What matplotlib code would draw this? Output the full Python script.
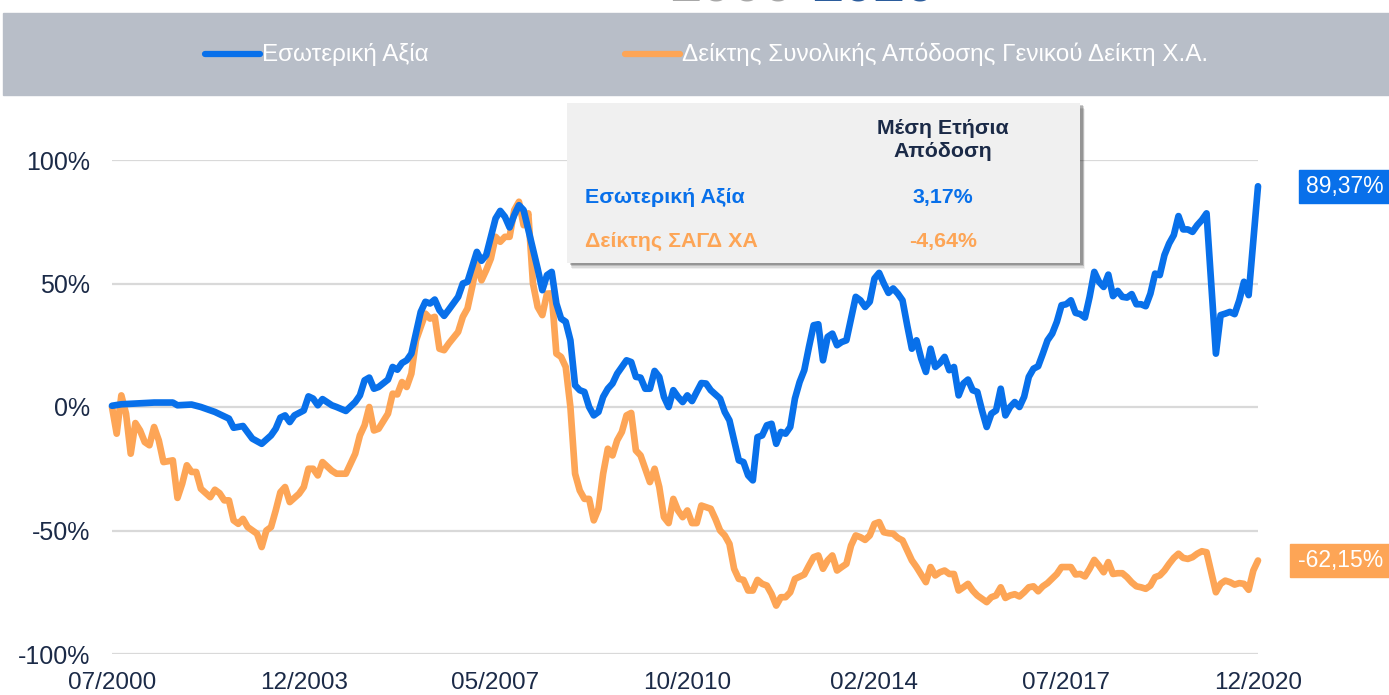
import matplotlib
matplotlib.use('Agg')
from matplotlib import pyplot as plt
from matplotlib.patches import Rectangle
from matplotlib.lines import Line2D
import matplotlib.transforms as mtransforms

# months counted from 07/2000
blue_months = [0, 2, 5, 9, 13, 14, 17, 19, 22, 25, 26, 28, 30, 32, 34, 35, 36, 37, 38, 39,
               41, 42, 43, 44, 45, 47, 48, 50, 52, 53, 54, 55, 56, 57, 59, 60, 61, 62, 63, 64,
               66, 67, 68, 69, 70, 71, 72, 74, 75, 76, 78, 79, 80, 81, 82, 83, 84, 85, 86, 87,
               88, 91, 92, 93, 94, 95, 96, 97, 98, 99, 100, 101, 102, 103, 104, 105, 106, 107, 108, 109,
               110, 111, 112, 113, 114, 115, 116, 117, 118, 119, 120, 121, 122, 123, 124, 125, 126, 127, 128, 130,
               131, 132, 133, 134, 135, 136, 137, 138, 139, 140, 141, 142, 143, 144, 145, 146, 147, 148, 149, 150,
               151, 152, 153, 154, 155, 156, 157, 158, 159, 160, 161, 162, 163, 164, 165, 166, 167, 168, 169, 170,
               171, 172, 173, 174, 175, 176, 177, 178, 179, 180, 181, 182, 183, 184, 185, 186, 187, 188, 189, 190,
               191, 192, 193, 194, 195, 196, 197, 198, 199, 200, 201, 202, 203, 204, 205, 206, 207, 208, 209, 210,
               211, 212, 213, 214, 215, 216, 217, 218, 219, 220, 221, 222, 223, 224, 225, 226, 227, 228, 229, 230,
               231, 232, 233, 234, 236, 237, 238, 239, 240, 241, 242, 243, 244, 245]
blue_values = [0.5, 1.1, 1.4, 1.8, 1.8, 0.7, 1.0, 0.0, -2.0, -4.7, -8.4, -7.7, -12.8, -14.9, -11.5, -8.8, -4.3, -3.4, -6.1, -3.4,
               -1.4, 4.3, 3.4, 0.7, 3.2, 0.7, 0.0, -1.6, 2.0, 4.7, 10.8, 11.9, 7.4, 8.1, 11.1, 16.2, 15.1, 17.8, 18.9, 21.6,
               38.5, 42.6, 41.9, 43.5, 39.2, 36.9, 39.4, 44.6, 50.0, 50.7, 62.8, 59.2, 61.5, 68.9, 76.3, 79.4, 77.0, 72.7, 77.7, 81.7,
               79.7, 56.0, 47.3, 53.4, 54.7, 41.9, 35.8, 34.5, 27.0, 8.8, 6.8, 6.1, 0.0, -3.4, -2.0, 4.1, 7.4, 9.5, 13.5, 16.2,
               18.9, 18.2, 12.2, 11.9, 7.4, 7.4, 14.6, 12.2, 4.1, 0.0, 6.8, 4.1, 2.0, 4.7, 2.4, 6.1, 9.7, 9.5, 6.8, 3.4,
               -2.0, -5.4, -13.5, -21.6, -22.3, -27.7, -29.7, -12.2, -11.5, -7.4, -6.8, -14.9, -10.1, -10.8, -8.1, 3.4, 10.1, 14.9, 24.3, 33.1,
               33.5, 18.9, 28.4, 29.7, 25.0, 26.3, 27.0, 35.8, 44.6, 43.2, 40.5, 42.6, 52.0, 54.3, 50.0, 46.2, 48.0, 45.9, 43.2, 33.1,
               23.6, 27.0, 19.6, 14.2, 23.6, 16.2, 17.8, 20.3, 14.9, 16.2, 4.7, 9.5, 11.1, 6.8, 6.1, -1.4, -8.1, -2.7, -1.4, 7.4,
               -3.4, 0.0, 2.0, 0.0, 4.1, 12.2, 15.5, 16.5, 21.6, 27.0, 29.7, 34.5, 41.2, 41.6, 43.2, 38.1, 37.6, 36.2, 44.6, 54.7,
               50.7, 48.6, 53.6, 44.9, 47.0, 44.6, 44.3, 45.7, 41.6, 41.6, 40.8, 45.9, 54.0, 53.4, 61.5, 66.2, 69.6, 77.3, 71.9, 71.9,
               70.9, 73.6, 75.7, 78.4, 21.6, 37.2, 37.8, 38.5, 37.6, 43.2, 50.7, 45.3, 67.6, 89.37]

orange_months = [0, 1, 2, 3, 4, 5, 6, 7, 8, 9, 10, 11, 13, 14, 15, 16, 17, 18, 19, 21,
                 22, 23, 24, 25, 26, 27, 28, 29, 31, 32, 33, 34, 35, 36, 37, 38, 40, 41, 42, 43,
                 44, 45, 47, 48, 50, 52, 53, 54, 55, 56, 57, 59, 60, 61, 62, 63, 64, 65, 67, 68,
                 69, 70, 71, 72, 74, 75, 76, 77, 78, 79, 80, 81, 82, 83, 84, 85, 86, 87, 88, 89,
                 90, 91, 92, 93, 94, 95, 96, 97, 98, 99, 100, 101, 102, 103, 104, 105, 106, 107, 108, 109,
                 110, 111, 112, 113, 114, 115, 116, 117, 118, 119, 120, 121, 122, 123, 124, 125, 126, 128, 129, 130,
                 131, 132, 133, 134, 135, 136, 137, 138, 139, 140, 141, 142, 143, 144, 145, 146, 148, 149, 150, 151,
                 152, 153, 154, 155, 156, 157, 158, 159, 160, 161, 162, 163, 164, 165, 166, 167, 168, 169, 170, 171,
                 172, 174, 175, 176, 177, 178, 179, 180, 181, 182, 183, 184, 185, 187, 188, 189, 190, 191, 192, 193,
                 194, 195, 196, 197, 198, 199, 200, 202, 203, 204, 205, 206, 207, 208, 209, 210, 211, 212, 213, 214,
                 215, 216, 217, 218, 219, 220, 221, 222, 223, 224, 225, 226, 227, 228, 229, 230, 231, 232, 233, 234,
                 236, 237, 238, 239, 240, 241, 242, 243, 244, 245]
orange_values = [0.0, -10.8, 4.7, -2.7, -18.9, -6.5, -9.5, -14.2, -15.5, -8.1, -13.5, -22.3, -21.6, -36.8, -31.1, -23.6, -26.3, -26.3, -33.1, -36.5,
                 -33.5, -34.9, -37.8, -37.8, -45.9, -47.3, -45.3, -48.6, -51.3, -56.7, -50.0, -48.6, -41.9, -34.5, -32.4, -38.5, -35.1, -32.4, -25.0, -25.0,
                 -27.7, -22.3, -25.8, -27.0, -27.0, -18.9, -11.5, -7.4, 0.0, -9.5, -8.8, -2.7, 5.4, 5.1, 10.1, 8.1, 13.5, 27.0, 37.8, 35.8,
                 36.5, 23.6, 23.0, 25.7, 30.4, 36.5, 39.9, 48.6, 58.1, 51.3, 55.4, 60.1, 68.9, 66.9, 68.9, 68.9, 79.7, 83.1, 73.6, 78.4,
                 50.0, 40.5, 37.2, 45.9, 46.0, 21.6, 20.3, 16.2, 0.0, -27.0, -33.8, -37.2, -37.2, -45.9, -41.2, -27.0, -16.9, -19.6, -13.5, -10.1,
                 -3.4, -2.4, -17.6, -19.6, -25.0, -30.4, -25.0, -32.4, -44.6, -47.0, -37.2, -41.9, -44.6, -41.9, -47.0, -47.0, -39.9, -41.2, -45.3, -50.0,
                 -52.0, -55.4, -65.5, -69.6, -70.0, -74.3, -74.3, -70.0, -71.6, -72.3, -75.7, -80.4, -77.0, -77.0, -75.0, -69.6, -67.8, -64.2, -60.8, -60.1,
                 -65.5, -62.1, -60.1, -66.2, -64.8, -63.5, -56.1, -52.0, -52.7, -53.8, -52.0, -47.3, -46.6, -50.7, -51.1, -51.3, -53.0, -54.0, -58.1, -62.1,
                 -64.8, -70.9, -64.8, -68.2, -66.9, -66.2, -67.6, -67.6, -74.3, -73.0, -71.6, -74.3, -76.3, -79.0, -77.0, -76.3, -73.0, -77.3, -76.3, -75.8,
                 -76.7, -75.0, -73.0, -72.6, -74.6, -72.6, -71.3, -67.6, -64.8, -64.8, -64.8, -67.8, -67.6, -68.6, -65.5, -61.9, -64.2, -66.9, -62.8, -67.6,
                 -67.3, -67.3, -68.9, -71.0, -72.6, -73.0, -73.6, -72.3, -68.9, -68.2, -66.2, -63.5, -61.1, -59.4, -61.1, -61.5, -60.8, -59.4, -58.4, -58.8,
                 -75.0, -71.6, -70.3, -70.9, -71.9, -71.3, -71.6, -74.0, -66.2, -62.15]

tick_labels = ['07/2000', '12/2003', '05/2007', '10/2010', '02/2014', '07/2017', '12/2020']
y_ticks = [-100, -50, 0, 50, 100]

series_names = ['Εσωτερική Αξία', 'Δείκτης Συνολικής Απόδοσης Γενικού Δείκτη Χ.Α.']
table_names = ['Εσωτερική Αξία', 'Δείκτης ΣΑΓΔ ΧΑ']
table_header = 'Μέση Ετήσια\nΑπόδοση'
table_values = ['3,17%', '-4,64%']
last_labels = ['89,37%', '-62,15%']

blue = '#0870ea'
orange = '#fda556'
navy = '#1b2a47'

plt.rcParams['font.family'] = ['Liberation Sans', 'DejaVu Sans']

W, H = 1389, 695
fig = plt.figure(figsize=(W / 100, H / 100), dpi=100)


def fx(px):
    return px / W


def fy(py):
    return 1 - py / H


def month_of(label):
    mm, yy = label.split('/')
    return (int(yy) - 2000) * 12 + int(mm) - 7


# cut-off title at the very top (only the bottom of the glyphs shows)
fig.text(fx(812), fy(1.2), '2000-', color='#a8a8a8', fontsize=40, fontweight='bold',
         ha='right', va='baseline')
fig.text(fx(812), fy(1.2), '2020', color='#2b5c9c', fontsize=40, fontweight='bold',
         ha='left', va='baseline')

# legend band
fig.patches.append(Rectangle((fx(3), fy(95)), 1 - fx(3), fy(13) - fy(95),
                             transform=fig.transFigure, color='#b8bec8', zorder=0))
for (x0, x1), name, col in zip([(205, 260), (625, 680)], series_names, [blue, orange]):
    fig.lines.append(Line2D([fx(x0), fx(x1)], [fy(54), fy(54)], transform=fig.transFigure,
                            color=col, lw=4.5, solid_capstyle='round'))
    fig.text(fx(x1 + 2), fy(54), name, color='white', fontsize=17.5, ha='left', va='center')

ax = fig.add_axes([fx(112), fy(654), fx(1258) - fx(112), fy(160) - fy(654)])
ax.plot(orange_months, orange_values, color=orange, lw=4.8, solid_joinstyle='round',
        solid_capstyle='round', clip_on=False, zorder=3)
ax.plot(blue_months, blue_values, color=blue, lw=4.8, solid_joinstyle='round',
        solid_capstyle='round', clip_on=False, zorder=4)

ax.set_xlim(0, month_of(tick_labels[-1]))
ax.set_ylim(y_ticks[0], y_ticks[-1])
ax.set_xticks([month_of(t) for t in tick_labels])
ax.set_xticklabels(tick_labels)
ax.set_yticks(y_ticks)
ax.set_yticklabels(['%d%%' % v for v in y_ticks])
ax.tick_params(length=0, colors=navy)
ax.tick_params(axis='y', pad=16, labelsize=18)
ax.tick_params(axis='x', pad=13, labelsize=17.5)
ax.grid(axis='y', color='#d9d9d9', lw=1.6)
ax.set_axisbelow(True)
for s in ax.spines.values():
    s.set_visible(False)

# end-value labels
trans = mtransforms.blended_transform_factory(fig.transFigure, ax.transData)
for val, txt, col, x0 in [(blue_values[-1], last_labels[0], blue, 1299),
                          (orange_values[-1], last_labels[1], orange, 1290)]:
    ax.add_patch(Rectangle((fx(x0), val - 6.7), 1 - fx(x0), 13.4, transform=trans,
                           color=col, clip_on=False, zorder=5))
    ax.text(fx((x0 + 1389) / 2 + 1), val, txt, transform=trans, color='white', fontsize=16.5,
            ha='center', va='center', zorder=6)

# summary table box with shadow
bx0, by0, bx1, by1 = 567, 103, 1080, 263
for i, a in enumerate([0.06, 0.09, 0.14, 0.2]):
    off = 6 - i * 1.4
    fig.patches.append(Rectangle((fx(bx0 + 2 + off / 2), fy(by1 + off)), fx(bx1 - bx0), fy(by0) - fy(by1),
                                 transform=fig.transFigure, color='black', alpha=a, lw=0, zorder=8))
fig.patches.append(Rectangle((fx(bx0), fy(by1)), fx(bx1 - bx0), fy(by0) - fy(by1),
                             transform=fig.transFigure, color='#f0f0f0', lw=0, zorder=9))
fig.text(fx(943), fy(140), table_header, color=navy, fontsize=15.4, fontweight='bold',
         ha='center', va='center', linespacing=1.25, zorder=10)
for yy, name, val, col in zip([197, 241], table_names, table_values, [blue, orange]):
    fig.text(fx(585), fy(yy), name, color=col, fontsize=15.4, fontweight='bold',
             ha='left', va='center', zorder=10)
    fig.text(fx(943), fy(yy), val, color=col, fontsize=15.4, fontweight='bold',
             ha='center', va='center', zorder=10)

fig.savefig('out.png', dpi=100)
